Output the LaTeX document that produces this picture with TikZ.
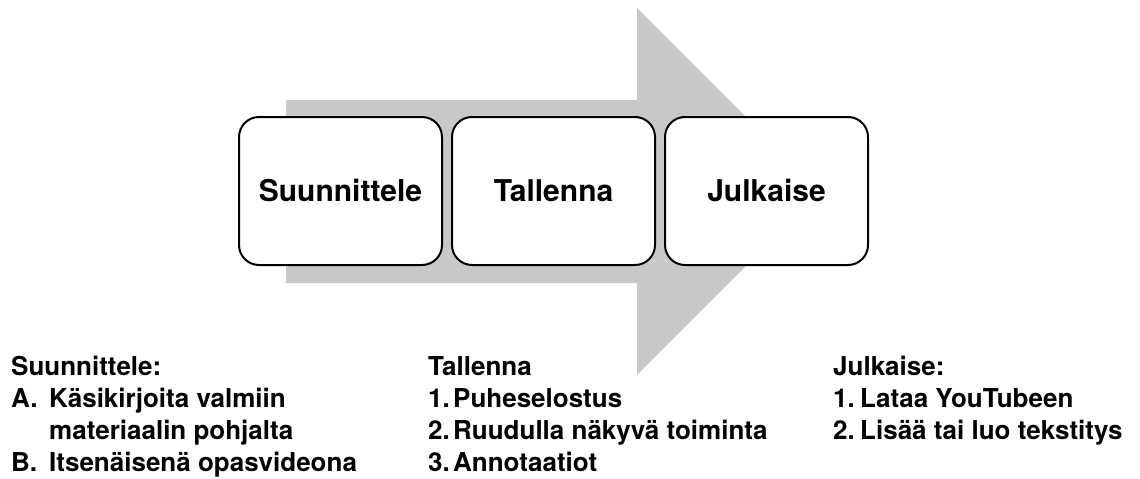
\documentclass[tikz,border=0pt]{standalone}
\usepackage{fontspec}
\setmainfont{TeX Gyre Heros}
\usetikzlibrary{positioning}
\definecolor{arrowgray}{RGB}{200,200,200}
\newcommand{\steprow}[3]{\hbox{\makebox[#1][l]{#2}#3}}
\tikzset{
  stagebox/.style={draw, rounded corners=20pt, line width=2pt, fill=white, minimum width=203pt, minimum height=148pt, align=center, font=\fontsize{30}{36}\selectfont\bfseries},
  headline/.style={anchor=base west, inner sep=0pt, font=\fontsize{26}{32}\selectfont\bfseries},
  steplist/.style={anchor=base west, inner sep=0pt, font=\fontsize{26}{32}\selectfont\bfseries}
}

\begin{document}
\begin{tikzpicture}[x=1pt, y=-1pt]
  \useasboundingbox (0,0) rectangle (1140,479);
  % big gray arrow behind the stages
  \fill[arrowgray] (286,100) -- (637,100) -- (637,8) -- (820.5,191.5) -- (637,375) -- (637,283) -- (286,283) -- cycle;
  \node[stagebox] (plan) at (340.5,191) {Suunnittele};
  \node[stagebox] (record) at (553.5,191) {Tallenna};
  \node[stagebox] (publish) at (766.5,191) {Julkaise};
  % lists below
  \node[headline] (planhead) at (11,375) {Suunnittele:};
  \node[steplist] (planlist) at (11,407) {\vtop{\steprow{38pt}{A.}{Käsikirjoita valmiin}\steprow{38pt}{}{materiaalin pohjalta}\steprow{38pt}{B.}{Itsenäisenä opasvideona}}};
  \node[headline] (recordhead) at (428,375) {Tallenna};
  \node[steplist] (recordlist) at (428,407) {\vtop{\steprow{25pt}{1.}{Puheselostus}\steprow{25pt}{2.}{Ruudulla näkyvä toiminta}\steprow{25pt}{3.}{Annotaatiot}}};
  \node[headline] (publishhead) at (833,375) {Julkaise:};
  \node[steplist] (publishlist) at (833,407) {\vtop{\steprow{27pt}{1.}{Lataa YouTubeen}\steprow{27pt}{2.}{Lisää tai luo tekstitys}}};
\end{tikzpicture}
\end{document}
